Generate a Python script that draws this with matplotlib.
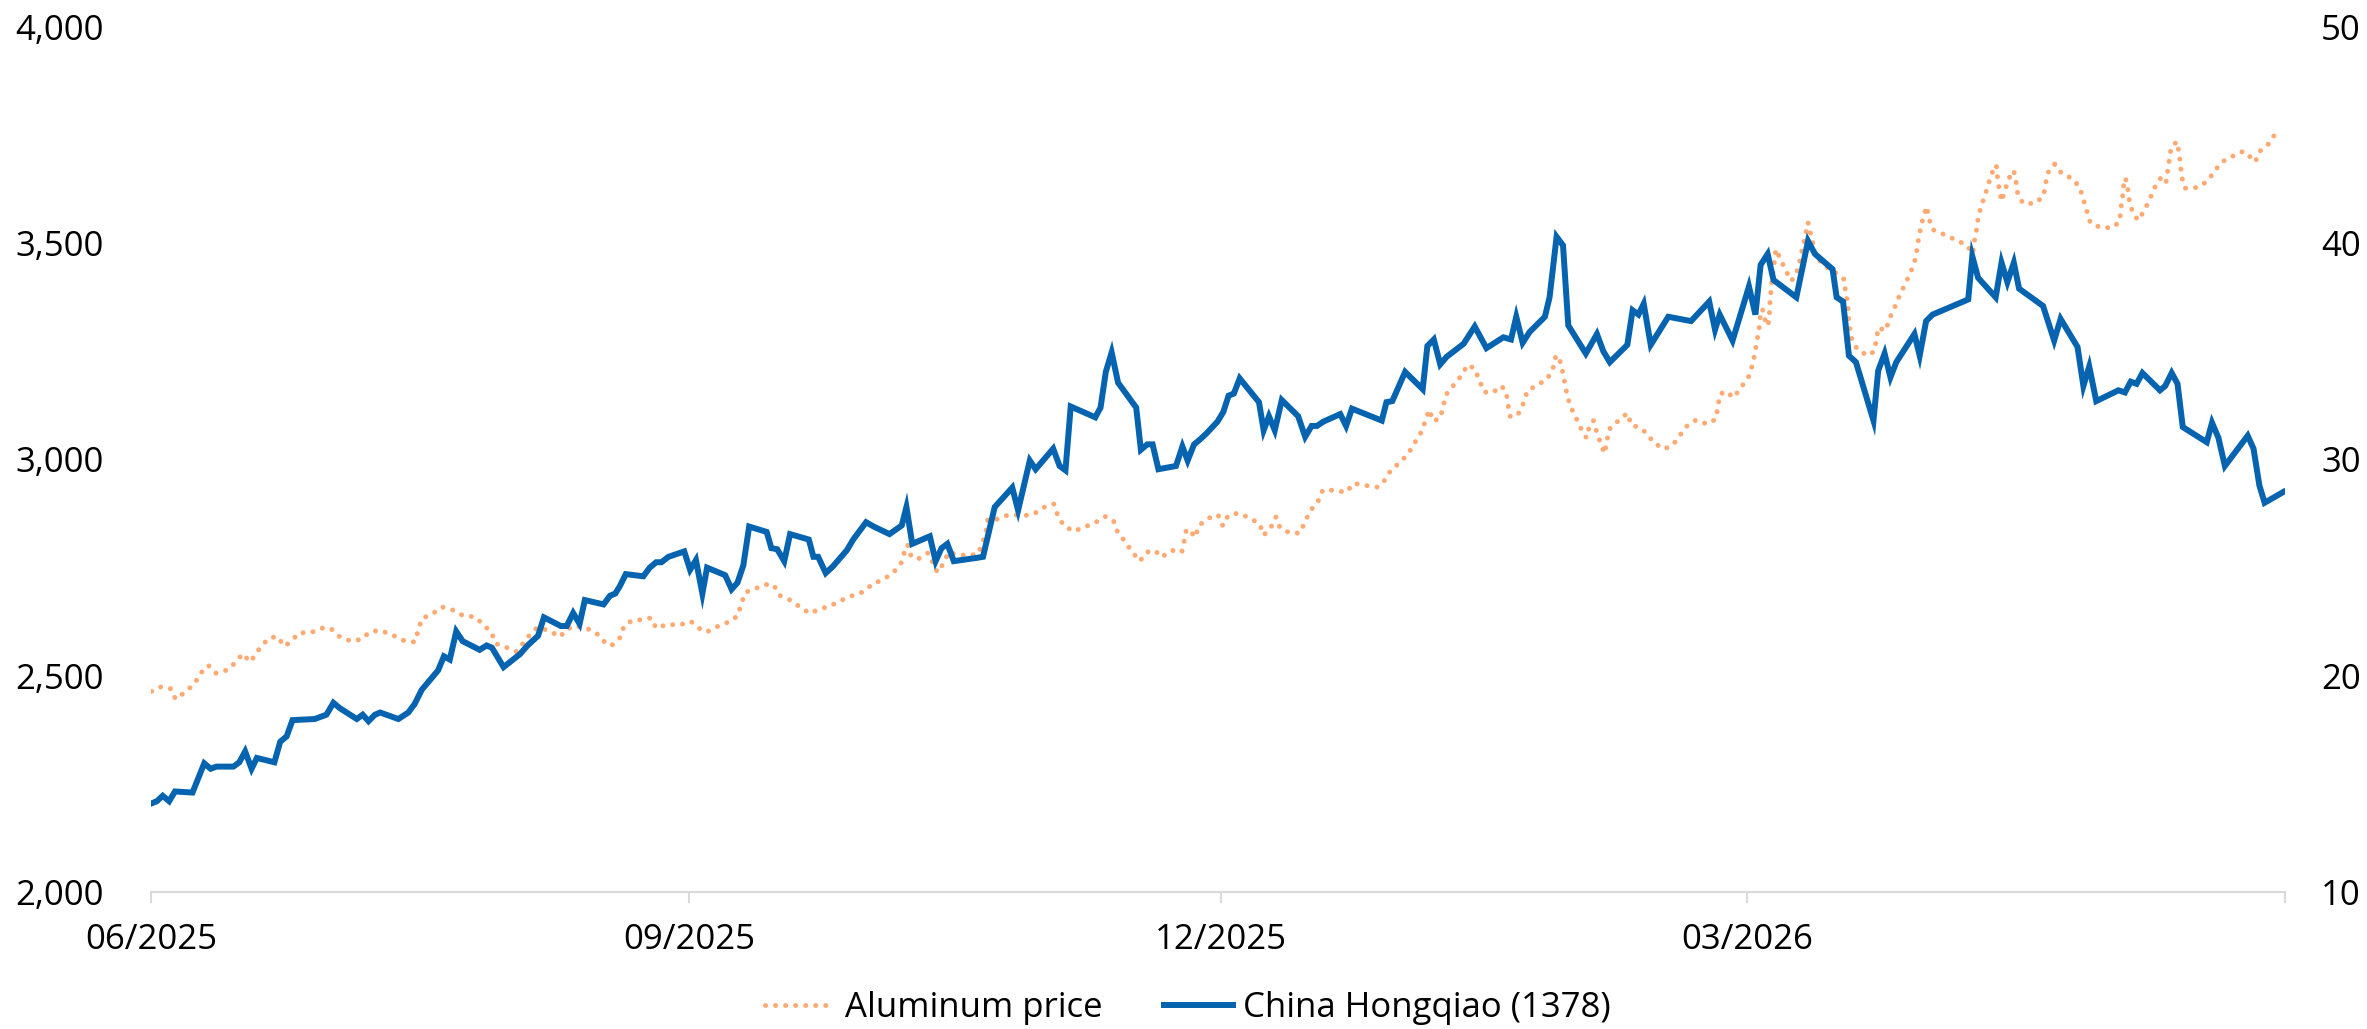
import numpy as np
import pandas as pd
import matplotlib
matplotlib.use('Agg')
import matplotlib.pyplot as plt
import matplotlib.dates as mdates
from matplotlib.ticker import FuncFormatter, MultipleLocator

plt.rcParams['font.family'] = ['Open Sans', 'DejaVu Sans']
plt.rcParams['font.size'] = 25

# Data; x values are days since 2025-06-01
start = pd.Timestamp('2025-06-01')

al_day = [0.1, 1.8, 3.4, 4.2, 5.8, 7.4, 8.5, 9.8, 11.1, 13.2, 14.5, 15.7, 16.9, 17.7, 18.8,
          20.2, 21.6, 22.8, 23.9, 25.3, 27.4, 29.2, 30.7, 32.2, 34.2, 35.9, 37.5, 39.2, 41.2,
          43.1, 45.1, 45.7, 46.3, 48.1, 49.8, 51.6, 53.4, 55.5, 56.8, 58.2, 59.0, 60.7, 62.5,
          64.8, 66.1, 68.1, 70.0, 70.9, 72.5, 74.5, 76.2, 77.6, 78.7, 80.2, 80.9, 82.3, 84.4,
          85.5, 86.4, 88.3, 90.4, 92.3, 93.7, 95.0, 96.9, 98.9, 100.4, 100.9, 101.7, 103.6,
          105.5, 106.5, 107.5, 109.3, 111.0, 112.7, 114.3, 116.1, 118.0, 119.9, 121.8, 123.4,
          125.3, 127.0, 128.3, 128.9, 129.4, 130.0, 131.2, 132.9, 133.7, 134.5, 135.6, 136.4,
          137.6, 139.5, 141.4, 142.2, 142.8, 143.1, 144.8, 146.6, 149.7, 151.0, 152.6, 154.4,
          155.1, 156.1, 157.8, 159.7, 161.6, 163.2, 164.6, 165.3, 166.6, 167.8, 169.1, 170.4,
          171.7, 172.8, 174.6, 176.3, 176.7, 177.1, 177.9, 178.6, 179.2, 180.8, 182.5, 183.3,
          184.2, 185.9, 187.9, 189.6, 190.3, 191.5, 192.4, 193.1, 194.8, 196.5, 197.4, 198.3,
          199.6, 200.4, 202.3, 204.4, 205.7, 207.7, 209.8, 211.0, 212.1, 213.7, 215.1, 216.2,
          217.3, 218.0, 218.6, 219.3, 220.5, 221.0, 221.5, 222.8, 224.1, 225.2, 226.4, 227.2,
          228.0, 229.4, 231.0, 231.8, 232.1, 232.5, 233.9, 234.8, 235.4, 237.2, 238.8, 239.8,
          240.3, 240.9, 241.4, 241.8, 242.2, 242.8, 243.7, 244.6, 245.5, 246.0, 246.7, 247.3,
          248.0, 248.6, 249.0, 249.4, 251.0, 252.5, 253.2, 254.4, 255.8, 257.0, 258.8, 260.3,
          261.5, 262.8, 264.2, 266.2, 267.6, 268.0, 268.3, 269.3, 270.7, 271.9, 273.2, 273.8,
          274.3, 274.6, 275.0, 275.2, 275.6, 276.1, 276.6, 276.8, 276.9, 277.1, 277.3, 277.9,
          278.8, 279.6, 280.6, 281.6, 282.1, 282.5, 283.0, 283.4, 283.8, 284.3, 284.7, 286.0,
          287.3, 288.9, 289.6, 289.8, 290.2, 290.3, 290.5, 290.9, 291.9, 293.7, 294.7, 295.1,
          295.4, 296.7, 297.3, 298.2, 299.0, 299.9, 300.8, 301.6, 302.0, 302.3, 302.7, 303.2,
          303.7, 304.1, 304.8, 306.7, 308.6, 310.5, 311.6, 311.8, 312.2, 312.5, 313.0, 313.7,
          314.3, 315.0, 315.6, 315.8, 316.1, 316.5, 317.3, 318.0, 318.6, 319.0, 319.3, 320.2,
          322.2, 323.7, 324.0, 324.5, 325.6, 326.8, 328.7, 329.9, 330.5, 331.1, 331.7, 333.5,
          335.5, 336.7, 336.9, 337.2, 337.4, 337.7, 338.1, 338.4, 339.0, 339.9, 341.0, 341.9,
          342.7, 343.7, 344.6, 344.9, 345.2, 345.5, 346.5, 346.9, 347.1, 347.4, 347.9, 350.0,
          351.7, 352.9, 354.2, 356.0, 357.9, 359.0, 359.9, 360.7, 362.3, 363.4]
al_price = [2464, 2475, 2470, 2446, 2462, 2481, 2506, 2524, 2506, 2514, 2532, 2551, 2532, 2545, 2568,
            2587, 2591, 2568, 2579, 2599, 2600, 2610, 2610, 2591, 2580, 2584, 2602, 2605, 2595,
            2582, 2578, 2604, 2632, 2643, 2659, 2652, 2639, 2636, 2618, 2601, 2574, 2566, 2556,
            2595, 2612, 2604, 2590, 2606, 2616, 2610, 2598, 2578, 2569, 2588, 2615, 2628, 2630,
            2634, 2610, 2619, 2617, 2626, 2610, 2601, 2614, 2625, 2639, 2666, 2693, 2703,
            2712, 2710, 2686, 2675, 2659, 2644, 2654, 2661, 2674, 2685, 2694, 2712,
            2723, 2739, 2761, 2788, 2803, 2776, 2770, 2784, 2762, 2739, 2761, 2786,
            2781, 2778, 2781, 2805, 2834, 2861, 2862, 2872, 2871, 2874, 2889, 2897,
            2870, 2847, 2834, 2844, 2855, 2868, 2859, 2833, 2810, 2787, 2765, 2786,
            2790, 2774, 2790, 2786, 2811, 2839, 2832, 2820, 2847, 2864, 2872, 2847,
            2870, 2876, 2865, 2851, 2825, 2842, 2867, 2842, 2830, 2830, 2857, 2882,
            2903, 2929, 2929, 2924, 2945, 2940, 2936, 2952, 2976, 2994, 3015, 3040,
            3064, 3091, 3115, 3089, 3095, 3123, 3150, 3172, 3194, 3219, 3210, 3183,
            3156, 3154, 3170, 3154, 3126, 3098, 3107, 3132, 3159, 3173, 3186, 3212,
            3241, 3232, 3205, 3177, 3149, 3122, 3097, 3071, 3050, 3076, 3090, 3062,
            3035, 3014, 3042, 3070, 3090, 3107, 3079, 3075, 3061, 3039, 3024, 3034,
            3056, 3079, 3091, 3082, 3093, 3121, 3150, 3158, 3143, 3166, 3190, 3215,
            3243, 3270, 3299, 3327, 3348, 3321, 3309, 3337, 3365, 3394, 3421, 3486,
            3460, 3436, 3413, 3438, 3465, 3492, 3521, 3548, 3525, 3496, 3473, 3448,
            3440, 3424, 3416, 3390, 3361, 3333, 3305, 3278, 3253, 3240, 3250, 3277,
            3305, 3298, 3325, 3351, 3377, 3403, 3428, 3455, 3482, 3510, 3537, 3565,
            3585, 3556, 3531, 3520, 3508, 3496, 3476, 3501, 3529, 3558, 3585, 3612,
            3639, 3667, 3681, 3654, 3626, 3597, 3631, 3657, 3668, 3640, 3612, 3592,
            3592, 3609, 3636, 3664, 3683, 3661, 3649, 3628, 3601, 3574, 3547, 3536,
            3536, 3550, 3579, 3607, 3635, 3651, 3624, 3595, 3568, 3553, 3578, 3603,
            3629, 3650, 3638, 3666, 3694, 3722, 3735, 3707, 3679, 3650, 3627, 3629,
            3643, 3666, 3688, 3701, 3713, 3700, 3688, 3713, 3731, 3755]

hq_day = [0.1, 1.0, 2.0, 3.1, 4.1, 7.1, 9.1, 10.2, 11.2, 14.1, 15.1, 16.1, 17.2, 18.1, 21.1,
          22.1, 23.2, 24.2, 28.0, 30.0, 31.2, 32.3, 35.2, 36.2, 37.2, 38.3, 39.2, 42.3, 44.0,
          45.1, 46.3, 49.1, 50.1, 51.1, 52.2, 53.3, 56.2, 57.4, 58.3, 60.3, 63.1, 64.4, 66.2,
          67.2, 70.1, 71.1, 72.2, 73.3, 74.2, 77.4, 78.5, 79.4, 80.2, 81.2, 84.2, 85.3, 86.4,
          87.3, 88.5, 91.2, 92.2, 93.2, 94.3, 95.1, 98.2, 99.3, 100.3, 101.3, 102.3, 105.3,
          106.1, 107.1, 108.3, 109.3, 112.5, 113.3, 114.1, 115.4, 116.6, 119.0, 120.1, 122.3,
          123.6, 126.3, 128.4, 129.2, 130.2, 133.2, 134.2, 135.2, 136.2, 137.3, 141.2, 142.3,
          144.3, 147.3, 148.3, 150.3, 151.3, 154.3, 155.4, 156.4, 157.3, 161.5, 162.4, 163.3,
          164.3, 165.4, 168.5, 169.3, 170.4, 171.3, 172.3, 175.3, 176.4, 177.3, 178.4, 179.3,
          180.5, 182.4, 183.4, 184.3, 185.2, 186.2, 189.5, 190.3, 191.2, 192.2, 193.4, 196.2,
          197.4, 198.5, 199.4, 200.5, 203.4, 204.4, 205.4, 210.5, 211.3, 212.3, 214.5, 217.5,
          218.3, 219.4, 220.5, 221.6, 224.5, 226.4, 228.4, 231.3, 232.6, 233.5, 234.6, 235.8,
          238.4, 239.2, 240.4, 241.5, 242.4, 245.4, 247.3, 248.4, 249.5, 252.5, 253.4, 254.4,
          255.3, 256.5, 259.5, 263.4, 266.5, 267.5, 268.3, 270.5, 273.3, 274.4, 275.3, 276.5,
          277.5, 281.4, 283.4, 284.6, 287.6, 288.3, 289.4, 290.4, 291.6, 294.6, 295.4, 296.5,
          297.5, 298.5, 301.6, 302.5, 303.6, 304.7, 310.8, 311.5, 312.5, 315.5, 316.5, 317.5,
          318.6, 319.5, 323.6, 325.5, 326.6, 329.5, 330.5, 331.5, 332.7, 336.5, 337.6, 338.6,
          339.6, 340.6, 343.6, 344.5, 345.6, 346.6, 347.5, 351.6, 352.5, 353.6, 354.7, 358.6,
          359.6, 360.6, 361.5, 364.7]
hq_price = [14.1, 14.2, 14.45, 14.2, 14.65, 14.6, 15.95, 15.7, 15.8, 15.8, 16.0, 16.5, 15.7, 16.2, 16.0,
            16.95, 17.2, 17.95, 18.0, 18.2, 18.75, 18.5, 18.0, 18.2, 17.9, 18.2, 18.3, 18.0, 18.3,
            18.7, 19.35, 20.25, 20.9, 20.75, 22.05, 21.6, 21.2, 21.4, 21.3, 20.4, 21.0, 21.4, 21.85,
            22.7, 22.3, 22.3, 22.9, 22.4, 23.5, 23.3, 23.7, 23.8, 24.15, 24.7, 24.6, 25.0, 25.25,
            25.25, 25.5, 25.75, 24.9, 25.35, 23.8, 25.0, 24.65, 24.0, 24.3, 25.1, 26.9, 26.65,
            25.9, 25.85, 25.3, 26.55, 26.3, 25.5, 25.5, 24.75, 25.05, 25.8, 26.3, 27.1,
            26.9, 26.55, 26.95, 27.8, 26.1, 26.45, 25.3, 25.9, 26.1, 25.3, 25.45, 25.5,
            27.8, 28.7, 27.65, 29.95, 29.55, 30.5, 29.7, 29.5, 32.45, 31.95, 32.4, 34.05,
            34.95, 33.55, 32.4, 30.45, 30.7, 30.7, 29.55, 29.7, 30.6, 29.95, 30.7, 30.9,
            31.2, 31.75, 32.2, 32.95, 33.05, 33.75, 32.65, 31.35, 32.0, 31.35, 32.75, 32.0,
            31.05, 31.55, 31.55, 31.75, 32.1, 31.55, 32.35, 31.8, 32.65, 32.7, 34.05, 33.25,
            35.25, 35.55, 34.4, 34.75, 35.35, 36.15, 35.15, 35.65, 35.55, 36.6, 35.4, 35.9,
            36.6, 37.5, 40.3, 39.9, 36.2, 34.9, 35.8, 35.0, 34.5, 35.3, 36.9, 36.7,
            37.2, 35.3, 36.6, 36.4, 37.3, 36.0, 36.7, 35.5, 38.0, 36.7, 39.0, 39.5,
            38.3, 37.5, 40.1, 39.5, 38.8, 37.5, 37.3, 34.8, 34.5, 31.8, 34.1, 34.9,
            33.8, 34.5, 35.8, 34.8, 36.4, 36.7, 37.4, 39.4, 38.4, 37.5, 39.1, 38.2,
            39.1, 37.9, 37.1, 35.5, 36.5, 35.2, 33.4, 34.3, 32.7, 33.2, 33.1, 33.6,
            33.5, 34.0, 33.2, 33.4, 34.0, 33.5, 31.5, 30.8, 31.7, 31.0, 29.7, 31.1,
            30.5, 28.8, 28.0, 28.5]

tick_dates = ['2025-06-01', '2025-09-01', '2025-12-01', '2026-03-01', '2026-06-01']
tick_labels = ['06/2025', '09/2025', '12/2025', '03/2026', '']

al_dates = start + pd.to_timedelta(al_day, unit='D')
hq_dates = start + pd.to_timedelta(hq_day, unit='D')

orange = '#FFAA72'
blue = '#0563AF'
grey = '#D9D9D9'

fig = plt.figure(figsize=(23.67, 10.29), dpi=100)
ax = fig.add_axes([0.0638, 0.1331, 0.9016, 0.8407])
ax2 = ax.twinx()

l1, = ax.plot(al_dates, al_price, color=orange, lw=3.6,
              linestyle=(0, (0.01, 2.0)), dash_capstyle='round', label='Aluminum price')
l2, = ax2.plot(hq_dates, hq_price, color=blue, lw=4.3, solid_joinstyle='miter',
               label='China Hongqiao (1378)')

ax.set_xlim(pd.Timestamp('2025-06-01'), pd.Timestamp('2026-06-01'))
ax.set_ylim(2000, 4000)
ax2.set_ylim(10, 50)
ax.yaxis.set_major_locator(MultipleLocator(500))
ax2.yaxis.set_major_locator(MultipleLocator(10))
ax.yaxis.set_major_formatter(FuncFormatter(lambda v, p: f'{v:,.0f}'))

ax.set_xticks(pd.to_datetime(tick_dates))
ax.set_xticklabels(tick_labels)

for a in (ax, ax2):
    for s in ['top', 'left', 'right']:
        a.spines[s].set_visible(False)
    a.spines['bottom'].set_visible(False)
ax.spines['bottom'].set_visible(True)
ax.spines['bottom'].set_color(grey)
ax.spines['bottom'].set_linewidth(1.5)

ax.tick_params(axis='x', length=8, width=1.5, color=grey, pad=14, labelsize=25)
ax.tick_params(axis='y', length=0, pad=34, labelsize=25)
ax2.tick_params(axis='y', length=0, pad=26, labelsize=25)

ax2.set_zorder(ax.get_zorder() + 1)
ax2.patch.set_visible(False)

fig.legend(handles=[l1, l2], loc='center', bbox_to_anchor=(0.502, 0.0204), ncol=2,
           frameon=False, fontsize=25, handlelength=2.0, handletextpad=0.3,
           columnspacing=1.75)

fig.savefig('out.png', dpi=100)
